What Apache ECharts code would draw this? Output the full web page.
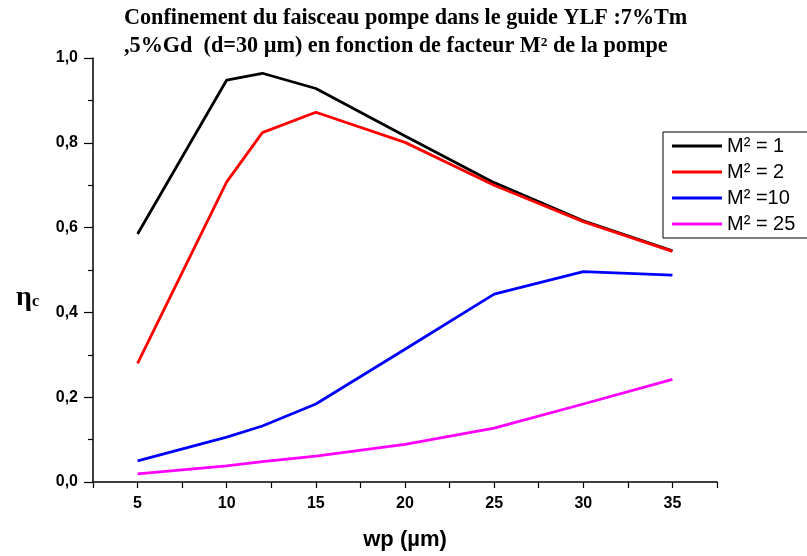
<!DOCTYPE html>
<html><head><meta charset="utf-8">
<script src="https://cdn.jsdelivr.net/npm/echarts@6/dist/echarts.min.js"></script>
<style>html,body{margin:0;padding:0;background:#fff}#c{width:807px;height:556px}</style>
</head><body><div id="c"></div>
<script>
const wp = [5, 10, 12, 15, 20, 25, 30, 35];
const m1 = [0.585, 0.948, 0.964, 0.928, 0.816, 0.706, 0.616, 0.545];
const m2 = [0.280, 0.708, 0.824, 0.872, 0.801, 0.700, 0.614, 0.544];
const m10 = [0.050, 0.106, 0.132, 0.184, 0.313, 0.443, 0.496, 0.488];
const m25 = [0.019, 0.038, 0.048, 0.061, 0.089, 0.127, 0.184, 0.242];
const names = ['M² = 1', 'M² = 2', 'M² =10', 'M² = 25'];
const colors = ['#000000', '#ff0000', '#0000ff', '#ff00ff'];
const seriesData = [m1, m2, m10, m25];

const chart = echarts.init(document.getElementById('c'));
chart.setOption({
  animation: false,
  backgroundColor: '#fff',
  title: {
    text: 'Confinement du faisceau pompe dans le guide YLF :7%Tm\n,5%Gd  (d=30 µm) en fonction de facteur M² de la pompe',
    left: 119, top: -1,
    textStyle: { fontFamily: 'Liberation Serif', fontWeight: 'bold', fontSize: 22.2, lineHeight: 28, color: '#000' }
  },
  legend: {
    data: names,
    orient: 'vertical',
    left: 663, top: 132,
    itemWidth: 50, itemHeight: 3, itemGap: 6,
    padding: [4, 20, 4, 9],
    borderColor: '#000', borderWidth: 1,
    icon: 'rect',
    textStyle: { fontFamily: 'Liberation Sans', fontSize: 20, lineHeight: 20, color: '#000' }
  },
  grid: { left: 93, right: 90, top: 58, bottom: 74 },
  xAxis: {
    type: 'value', min: 2.5, max: 37.5, interval: 2.5,
    name: 'wp (µm)', nameLocation: 'middle', nameGap: 47,
    nameTextStyle: { fontFamily: 'Liberation Sans', fontWeight: 'bold', fontSize: 22, color: '#000' },
    axisLine: { lineStyle: { color: '#000', width: 1.5 } },
    axisTick: { length: 6, lineStyle: { color: '#000', width: 1.2 } },
    axisLabel: {
      margin: 14, fontFamily: 'Liberation Sans', fontWeight: 'bold', fontSize: 16, color: '#000',
      formatter: v => (Math.abs(v % 5) < 1e-6 ? String(v) : '')
    },
    splitLine: { show: false }
  },
  yAxis: {
    type: 'value', min: 0, max: 1, interval: 0.2,
    name: '{a|η}{b|c}', nameLocation: 'middle', nameGap: 54, nameRotate: 0,
    nameTextStyle: {
      padding: [56, 0, 0, 0],
      rich: {
        a: { fontFamily: 'Liberation Serif', fontWeight: 'bold', fontSize: 28, color: '#000' },
        b: { fontFamily: 'Liberation Serif', fontWeight: 'bold', fontSize: 16, color: '#000', padding: [8, 0, 0, 0] }
      }
    },
    axisLine: { show: true, lineStyle: { color: '#000', width: 1.5 } },
    axisTick: { show: true, length: 9, lineStyle: { color: '#000', width: 1.2 } },
    minorTick: { show: true, splitNumber: 2, length: 5, lineStyle: { color: '#000', width: 1.2 } },
    axisLabel: {
      margin: 15, fontFamily: 'Liberation Sans', fontWeight: 'bold', fontSize: 16, color: '#000',
      formatter: v => v.toFixed(1).replace('.', ',')
    },
    splitLine: { show: false }
  },
  series: seriesData.map((d, i) => ({
    name: names[i], type: 'line', showSymbol: false, symbol: 'none',
    data: wp.map((x, j) => [x, d[j]]),
    lineStyle: { color: colors[i], width: 2.8 },
    itemStyle: { color: colors[i] }
  }))
});
</script></body></html>
